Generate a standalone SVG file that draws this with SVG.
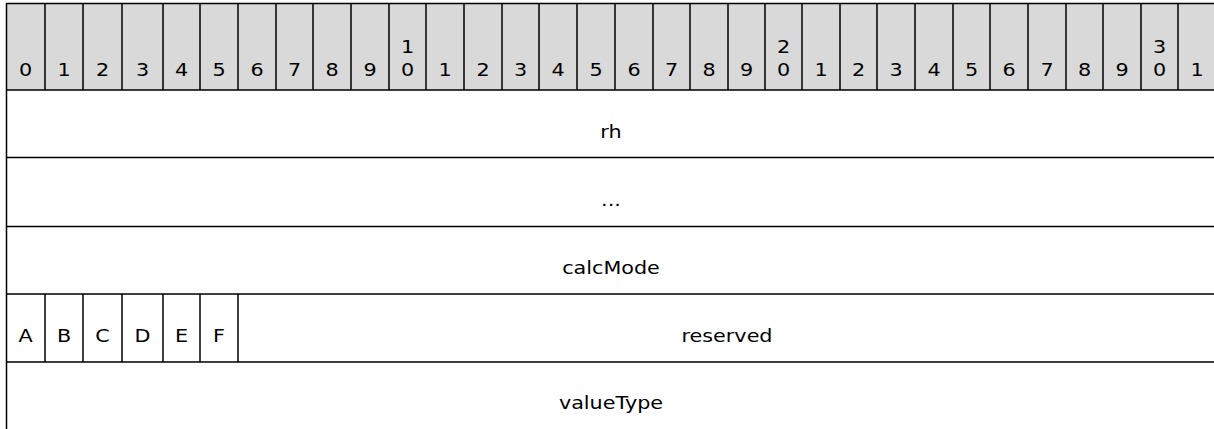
<svg xmlns="http://www.w3.org/2000/svg" width="1214" height="429" viewBox="0 0 1214 429">
<style>
.ln{stroke:#000;stroke-width:1.5;fill:none}
.hd{fill:#d9d9d9;stroke:none}
text{font-family:"DejaVu Sans","Liberation Sans",sans-serif;font-size:17.5px;fill:#000;text-anchor:middle}
</style>
<rect width="1214" height="429" fill="#fff"/>
<g id="header">
<rect class="hd" x="6.5" y="3.5" width="1210" height="86.5"/>
<g id="bit-numbers">
<text transform="translate(25.7,76) scale(1.185,1)">0</text>
<text transform="translate(64,76) scale(1.185,1)">1</text>
<text transform="translate(102.5,76) scale(1.185,1)">2</text>
<text transform="translate(142.5,76) scale(1.185,1)">3</text>
<text transform="translate(181.5,76) scale(1.185,1)">4</text>
<text transform="translate(219,76) scale(1.185,1)">5</text>
<text transform="translate(257,76) scale(1.185,1)">6</text>
<text transform="translate(294.5,76) scale(1.185,1)">7</text>
<text transform="translate(332,76) scale(1.185,1)">8</text>
<text transform="translate(370,76) scale(1.185,1)">9</text>
<text transform="translate(407.5,52.5) scale(1.185,1)">1</text>
<text transform="translate(407.5,76) scale(1.185,1)">0</text>
<text transform="translate(445,76) scale(1.185,1)">1</text>
<text transform="translate(483,76) scale(1.185,1)">2</text>
<text transform="translate(520.5,76) scale(1.185,1)">3</text>
<text transform="translate(558,76) scale(1.185,1)">4</text>
<text transform="translate(596,76) scale(1.185,1)">5</text>
<text transform="translate(634,76) scale(1.185,1)">6</text>
<text transform="translate(671.5,76) scale(1.185,1)">7</text>
<text transform="translate(709,76) scale(1.185,1)">8</text>
<text transform="translate(746.5,76) scale(1.185,1)">9</text>
<text transform="translate(783.5,52.5) scale(1.185,1)">2</text>
<text transform="translate(783.5,76) scale(1.185,1)">0</text>
<text transform="translate(821,76) scale(1.185,1)">1</text>
<text transform="translate(858.5,76) scale(1.185,1)">2</text>
<text transform="translate(896,76) scale(1.185,1)">3</text>
<text transform="translate(934,76) scale(1.185,1)">4</text>
<text transform="translate(971.5,76) scale(1.185,1)">5</text>
<text transform="translate(1009,76) scale(1.185,1)">6</text>
<text transform="translate(1047,76) scale(1.185,1)">7</text>
<text transform="translate(1084.5,76) scale(1.185,1)">8</text>
<text transform="translate(1122,76) scale(1.185,1)">9</text>
<text transform="translate(1159.5,52.5) scale(1.185,1)">3</text>
<text transform="translate(1159.5,76) scale(1.185,1)">0</text>
<text transform="translate(1197,76) scale(1.185,1)">1</text>
</g>
<path class="ln" d="M45,3.5V90M83,3.5V90M122,3.5V90M163,3.5V90M200,3.5V90M238,3.5V90M276,3.5V90M313,3.5V90M351,3.5V90M389,3.5V90M426,3.5V90M464,3.5V90M502,3.5V90M539,3.5V90M577,3.5V90M615,3.5V90M653,3.5V90M690,3.5V90M728,3.5V90M765,3.5V90M802,3.5V90M840,3.5V90M877,3.5V90M915,3.5V90M953,3.5V90M990,3.5V90M1028,3.5V90M1066,3.5V90M1103,3.5V90M1141,3.5V90M1178,3.5V90"/>
</g>
<g id="frame">
<path class="ln" d="M6.5,3.5H1216V432H6.5Z"/>
<path class="ln" d="M6.5,90H1216M6.5,157.5H1216M6.5,226.5H1216M6.5,294H1216M6.5,362H1216"/>
</g>
<g id="row-rh"><text transform="translate(611,138) scale(1.185,1)">rh</text></g>
<g id="row-ellipsis"><text transform="translate(611,206) scale(1.185,1)">...</text></g>
<g id="row-calcMode"><text transform="translate(611,273.5) scale(1.185,1)">calcMode</text></g>
<g id="row-flags">
<g id="bit-A"><text transform="translate(25.7,341.5) scale(1.185,1)">A</text></g>
<g id="bit-B"><path class="ln" d="M45,294V362"/><text transform="translate(64,341.5) scale(1.185,1)">B</text></g>
<g id="bit-C"><path class="ln" d="M83,294V362"/><text transform="translate(102.5,341.5) scale(1.185,1)">C</text></g>
<g id="bit-D"><path class="ln" d="M122,294V362"/><text transform="translate(142.5,341.5) scale(1.185,1)">D</text></g>
<g id="bit-E"><path class="ln" d="M163,294V362"/><text transform="translate(181.5,341.5) scale(1.185,1)">E</text></g>
<g id="bit-F"><path class="ln" d="M200,294V362"/><text transform="translate(219,341.5) scale(1.185,1)">F</text></g>
<g id="reserved"><path class="ln" d="M238,294V362"/><text transform="translate(727,341.5) scale(1.185,1)">reserved</text></g>
</g>
<g id="row-valueType"><text transform="translate(611,409) scale(1.185,1)">valueType</text></g>
</svg>
